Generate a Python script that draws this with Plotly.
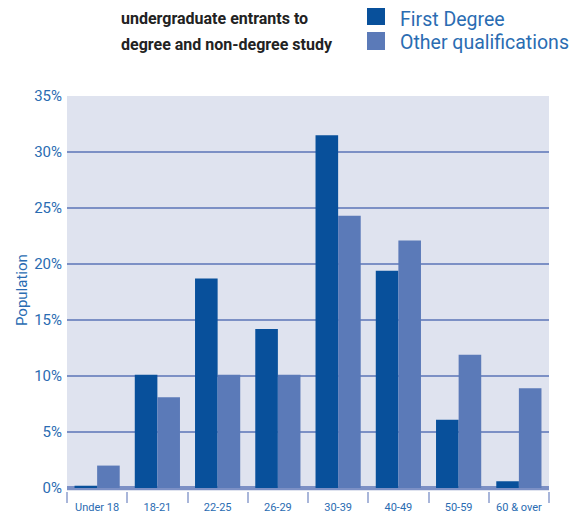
import plotly.graph_objects as go

# Age bands and share of entrants (%)
age_groups = ["Under 18", "18-21", "22-25", "26-29", "30-39", "40-49", "50-59", "60 & over"]
first_degree = [0.2, 10.1, 18.7, 14.2, 31.5, 19.4, 6.1, 0.6]
other_quals = [2.0, 8.1, 10.1, 10.1, 24.3, 22.1, 11.9, 8.9]
y_ticks = [0, 5, 10, 15, 20, 25, 30, 35]
y_tick_text = [f"{v}%" for v in y_ticks]

DARK = "#08509b"
LIGHT = "#5b7ab8"
BG = "#dfe3ef"
GRID = "#7c90c5"
TEXT_BLUE = "#2a6cb2"
FONT = "Roboto"

fig = go.Figure()
fig.add_trace(go.Bar(x=age_groups, y=first_degree, name="First Degree",
                     marker=dict(color=DARK, line=dict(width=0))))
fig.add_trace(go.Bar(x=age_groups, y=other_quals, name="Other qualifications",
                     marker=dict(color=LIGHT, line=dict(width=0))))

W, H = 581, 513
L, R, T, B = 67, 32, 96, 22
pw, ph = W - L - R, H - T - B


def px(x):
    return (x - L) / pw


def py(y):
    return (H - B - y) / ph


fig.update_layout(
    width=W, height=H,
    margin=dict(l=L, r=R, t=T, b=B, autoexpand=False),
    paper_bgcolor="white",
    plot_bgcolor=BG,
    barmode="group",
    bargap=0.25,
    bargroupgap=0,
    showlegend=False,
    font=dict(family=FONT, color=TEXT_BLUE),
    xaxis=dict(
        tickson="boundaries", ticks="outside", ticklen=11, tickwidth=1.5,
        tickcolor="#a9b6da", showgrid=False, showline=False,
        ticklabelstandoff=8,
        tickfont=dict(size=11, color=TEXT_BLUE, family=FONT),
        automargin=False, fixedrange=True,
    ),
    yaxis=dict(
        range=[-0.27, 35], tickvals=y_ticks, ticktext=y_tick_text,
        showgrid=True, gridcolor=GRID, gridwidth=2.2,
        zeroline=True, zerolinecolor=GRID, zerolinewidth=3.5,
        ticks="", ticklabelstandoff=4,
        tickfont=dict(size=15, color=TEXT_BLUE, family=FONT),
        showline=False, automargin=False, fixedrange=True,
    ),
)

# Vertical axis title
fig.add_annotation(text="Population", xref="paper", yref="paper",
                   x=px(22), y=py(290), textangle=-90, xanchor="center", yanchor="middle",
                   showarrow=False, font=dict(size=15, color=TEXT_BLUE, family=FONT))

# Chart heading
for txt, yc in [("undergraduate entrants to", 18), ("degree and non-degree study", 45)]:
    fig.add_annotation(text=f"<b>{txt}</b>", xref="paper", yref="paper",
                       x=px(119), y=py(yc), xanchor="left", yanchor="middle",
                       showarrow=False, font=dict(size=16, color="#222222", family=FONT))

# Key
for name, col, (y0, y1), yc in [("First Degree", DARK, (8, 25), 19),
                                ("Other qualifications", LIGHT, (32, 50), 43)]:
    fig.add_shape(type="rect", xref="paper", yref="paper",
                  x0=px(367), x1=px(385), y0=py(y1), y1=py(y0),
                  fillcolor=col, line=dict(width=0))
    fig.add_annotation(text=name, xref="paper", yref="paper",
                       x=px(398), y=py(yc), xanchor="left", yanchor="middle",
                       showarrow=False, font=dict(size=19.5, color=TEXT_BLUE, family=FONT))

fig.write_html("out.html")
